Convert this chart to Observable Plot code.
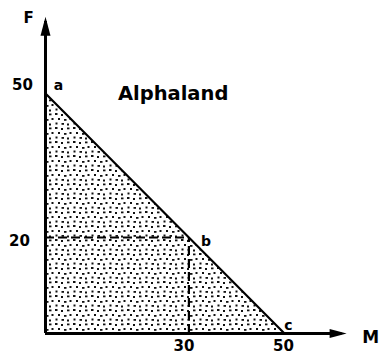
<!DOCTYPE html>
<html><head><meta charset="utf-8">
<script src="https://cdn.jsdelivr.net/npm/d3@7"></script>
<script src="https://cdn.jsdelivr.net/npm/@observablehq/plot@0.6"></script>
<style>body{margin:0;background:#fff}</style>
</head><body><div id="chart"></div>
<script>
// Production possibility frontier of Alphaland
const frontierM = [0, 50];
const frontierF = [50, 0];
const pointLabels = ["a", "b", "c"];
const pointM = [0, 30, 50];
const pointF = [50, 20, 0];
const yTickValues = [50, 20];
const xTickValues = [30, 50];
const countryName = "Alphaland";
const axisNameX = "M";
const axisNameY = "F";
const axisEndM = 63;
const axisEndF = 66;
const bundleM = 30;
const bundleF = 20;

const frontier = frontierM.map((m, i) => ({M: m, F: frontierF[i]}));
const points = pointLabels.map((l, i) => ({label: l, M: pointM[i], F: pointF[i]}));

const arrowUp = {draw(ctx) { ctx.moveTo(0, 0); ctx.lineTo(5, 19); ctx.lineTo(-5, 19); ctx.closePath(); }};
const arrowRight = {draw(ctx) { ctx.moveTo(0, 0); ctx.lineTo(-17, -4.5); ctx.lineTo(-17, 4.5); ctx.closePath(); }};

const font = {fontFamily: "DejaVu Sans, sans-serif", fontWeight: "bold", fill: "#000"};

const svg = Plot.plot({
  width: 381,
  height: 355,
  marginLeft: 45,
  marginRight: 97,
  marginTop: 93,
  marginBottom: 22,
  x: {domain: [0, 50], axis: null},
  y: {domain: [0, 50], axis: null},
  style: {background: "#fff", fontFamily: "DejaVu Sans, sans-serif"},
  marks: [
    Plot.areaY(frontier, {x: "M", y: "F", fill: "url(#stipple)"}),
    Plot.ruleY([bundleF], {x1: 0, x2: bundleM, stroke: "#000", strokeWidth: 2.2, strokeDasharray: "9,4"}),
    Plot.ruleX([bundleM], {y1: 0, y2: bundleF, stroke: "#000", strokeWidth: 2.2, strokeDasharray: "9,4"}),
    Plot.line(frontier, {x: "M", y: "F", stroke: "#000", strokeWidth: 2.2}),
    Plot.ruleX([0], {y1: 0, y2: axisEndF - 1, stroke: "#000", strokeWidth: 3}),
    Plot.ruleY([0], {x1: 0, x2: axisEndM - 1, stroke: "#000", strokeWidth: 3}),
    Plot.dot([0], {x: 0, y: axisEndF, symbol: arrowUp, fill: "#000", stroke: null}),
    Plot.dot([0], {x: axisEndM, y: 0, symbol: arrowRight, fill: "#000", stroke: null}),
    Plot.text([yTickValues[0]], {x: 0, y: d => d, text: d => String(d), dx: -23, dy: -8, fontSize: 15, ...font}),
    Plot.text([yTickValues[1]], {x: 0, y: d => d, text: d => String(d), dx: -26, dy: 4, fontSize: 15, ...font}),
    Plot.text([xTickValues[0]], {x: d => d, y: 0, text: d => String(d), dx: -5, dy: 13, fontSize: 15, ...font}),
    Plot.text([xTickValues[1]], {x: d => d, y: 0, text: d => String(d), dx: -1, dy: 13, fontSize: 15, ...font}),
    Plot.text([points[0]], {x: "M", y: "F", text: "label", dx: 13, dy: -8, fontSize: 14, ...font}),
    Plot.text([points[1]], {x: "M", y: "F", text: "label", dx: 17, dy: 4, fontSize: 14, ...font}),
    Plot.text([points[2]], {x: "M", y: "F", text: "label", dx: 4, dy: -8, fontSize: 14, ...font}),
    Plot.text([countryName], {x: 26.7, y: 50, text: d => d, fontSize: 19.5, ...font}),
    Plot.text([axisNameY], {x: 0, y: axisEndF, text: d => d, dx: -17, dy: 1, fontSize: 15, ...font}),
    Plot.text([axisNameX], {x: axisEndM, y: 0, text: d => d, dx: 24, dy: 4, fontSize: 17, ...font})
  ]
});

const ns = "http://www.w3.org/2000/svg";
const defs = document.createElementNS(ns, "defs");
defs.innerHTML = `<pattern id="stipple" patternUnits="userSpaceOnUse" width="18" height="14">
  <rect x="1" y="1" width="2.5" height="2" fill="#111"/>
  <rect x="7" y="2" width="2" height="2" fill="#111"/>
  <rect x="13" y="1.5" width="2.5" height="1.8" fill="#111"/>
  <rect x="4" y="6" width="2" height="2" fill="#111"/>
  <rect x="10" y="7" width="2.5" height="1.8" fill="#111"/>
  <rect x="15.5" y="6" width="2" height="2" fill="#111"/>
  <rect x="1.5" y="10.5" width="2" height="2" fill="#111"/>
  <rect x="7.5" y="11" width="2.5" height="1.8" fill="#111"/>
  <rect x="13" y="11.5" width="2" height="2" fill="#111"/>
</pattern>`;
svg.insertBefore(defs, svg.firstChild);
document.getElementById("chart").appendChild(svg);
</script>
</body></html>
